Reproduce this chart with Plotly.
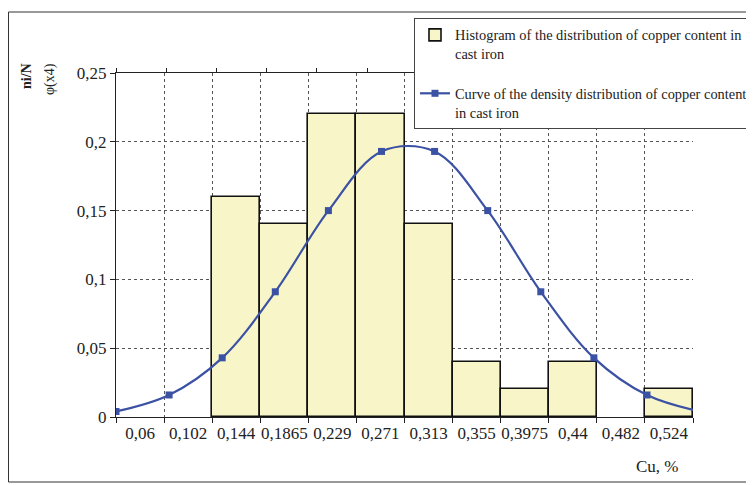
import plotly.graph_objects as go

# ---- data ----
categories = ["0,06", "0,102", "0,144", "0,1865", "0,229", "0,271",
              "0,313", "0,355", "0,3975", "0,44", "0,482", "0,524"]
hist_values = [None, None, 0.16, 0.14, 0.22, 0.22, 0.14, 0.04, 0.02, 0.04, None, 0.02]
curve_index = [0, 1, 2, 3, 4, 5, 6, 7, 8, 9, 10, 11]
curve_values = [0.004, 0.016, 0.043, 0.091, 0.150, 0.193,
                0.193, 0.150, 0.091, 0.043, 0.016, 0.004]
y_ticks = [0, 0.05, 0.1, 0.15, 0.2, 0.25]

OFF = 8  # page body margin
W, H = 754 - OFF, 485 - OFF
L, T = 116 - OFF, 73 - OFF
PW, PH = 577, 344
R, B = W - L - PW, H - T - PH


def px(x):
    return (x - OFF - L) / PW


def py(y):
    return (T + PH - (y - OFF)) / PH


FONT = "Liberation Serif, Times New Roman, serif"

fig = go.Figure()
fig.add_trace(go.Bar(
    x=categories, y=hist_values, width=1,
    marker=dict(color="#f8f6c9", line=dict(color="#111111", width=1.6)),
    name="Histogram of the distribution of copper content in<br>cast iron",
    legendgroup="a",
))
fig.add_trace(go.Scatter(
    x=curve_index, y=curve_values, xaxis="x2", yaxis="y",
    mode="lines+markers", line=dict(color="#3b51a3", width=2.2, shape="spline", smoothing=1.0),
    marker=dict(symbol="square", size=7, color="#3b51a3"),
    name="Curve of the density distribution of copper content<br>in cast iron",
    legendgroup="b",
))

fig.update_layout(
    width=W, height=H,
    margin=dict(l=L, r=R, t=T, b=B, autoexpand=False),
    paper_bgcolor="white", plot_bgcolor="white",
    separators=", ",
    font=dict(family=FONT, size=16, color="#222222"),
    bargap=0,
    showlegend=True,
    legend=dict(
        x=px(414), y=py(18), xanchor="left", yanchor="top",
        bgcolor="white", bordercolor="#444444", borderwidth=1,
        font=dict(family=FONT, size=14.4, color="#222222"),
        traceorder="grouped", tracegroupgap=18, valign="top",
    ),
    xaxis=dict(
        type="category", tickson="boundaries",
        range=[-0.5, 11.5],
        showline=True, linecolor="#222222", linewidth=1.2, mirror=True,
        ticks="outside", ticklen=5, tickcolor="#222222",
        showgrid=True, gridcolor="#555555", gridwidth=1, griddash="dot",
        tickfont=dict(family=FONT, size=17, color="#222222"),
        tickangle=0, zeroline=False, automargin=False,
    ),
    xaxis2=dict(
        overlaying="x", range=[0, PW / 53.1], visible=False,
    ),
    xaxis3=dict(
        overlaying="x", side="top", range=[0, PW / 50.2],
        tickmode="linear", tick0=0, dtick=1,
        ticks="outside", ticklen=4, tickcolor="#222222",
        showticklabels=False, showgrid=False, showline=False, zeroline=False,
    ),
    yaxis=dict(
        range=[0, 0.25], tickvals=y_ticks,
        showline=True, linecolor="#222222", linewidth=1.2,
        ticks="outside", ticklen=5, tickcolor="#222222",
        showgrid=True, gridcolor="#555555", gridwidth=1, griddash="dot",
        tickfont=dict(family=FONT, size=17, color="#222222"),
        zeroline=False, automargin=False,
    ),
)

# invisible trace to activate the top tick axis
fig.add_trace(go.Scatter(x=[0], y=[None], xaxis="x3", yaxis="y",
                         showlegend=False, hoverinfo="skip"))

fig.add_shape(type="rect", xref="paper", yref="paper",
              x0=px(8.5), x1=px(770), y0=py(482), y1=py(12),
              line=dict(color="#333333", width=1), layer="below")

fig.add_annotation(text="<b>ni/N</b>", xref="paper", yref="paper",
                   x=px(27), y=py(61), xanchor="center", yanchor="top",
                   textangle=-90, showarrow=False,
                   font=dict(family=FONT, size=14, color="#222222"))
fig.add_annotation(text="φ(x4)", xref="paper", yref="paper",
                   x=px(50), y=py(61), xanchor="center", yanchor="top",
                   textangle=-90, showarrow=False,
                   font=dict(family=FONT, size=14, color="#222222"))
fig.add_annotation(text="Cu, %", xref="paper", yref="paper",
                   x=px(657), y=py(466), xanchor="center", yanchor="middle",
                   showarrow=False,
                   font=dict(family=FONT, size=17, color="#222222"))

fig.write_html("out.html")
